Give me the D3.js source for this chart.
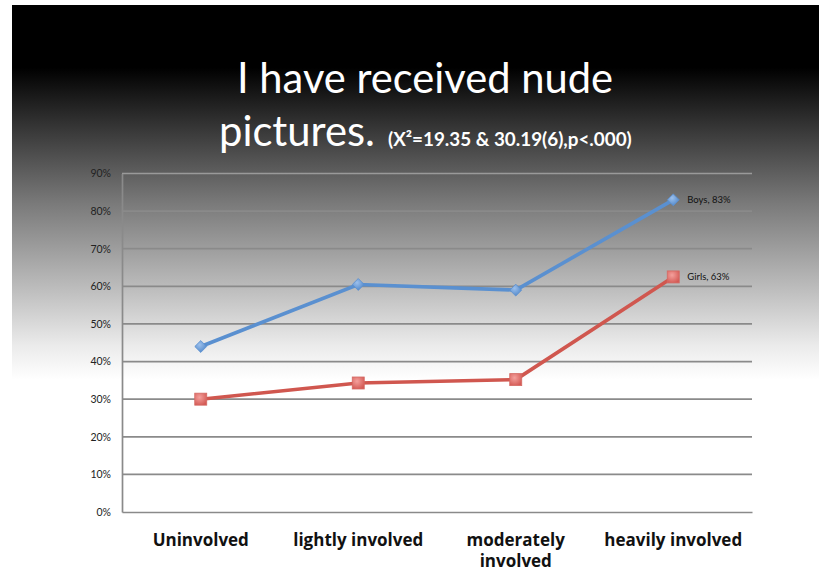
<!DOCTYPE html>
<html><head><meta charset="utf-8">
<script src="https://cdn.jsdelivr.net/npm/d3@7"></script>
<style>html,body{margin:0;padding:0;background:#fff;overflow:hidden}</style>
</head><body>
<svg id="c" width="819" height="573"></svg>
<script>
const categories = ["Uninvolved", "lightly involved", "moderately involved", "heavily involved"];
const boys = [0.44, 0.605, 0.59, 0.83];
const girls = [0.30, 0.343, 0.352, 0.625];
const seriesNames = ["Boys", "Girls"];
const labelTexts = ["Boys, 83%", "Girls, 63%"];
const yTicks = [0, 0.1, 0.2, 0.3, 0.4, 0.5, 0.6, 0.7, 0.8, 0.9];
const titleLine1 = "I have received nude";
const titleLine2 = "pictures.";
const subtitle = "(X²=19.35 & 30.19(6),p<.000)";

const FONT = "Lato, 'Open Sans', sans-serif";
const svg = d3.select("#c");
const defs = svg.append("defs");
const bg = defs.append("linearGradient").attr("id","bg")
  .attr("gradientUnits","userSpaceOnUse").attr("x1",0).attr("y1",5).attr("x2",0).attr("y2",573);
[[0,"#000"],[0.11,"#000"],[0.2,"#2e2e2e"],[0.35,"#7a7a7a"],[0.5,"#bdbdbd"],[0.6,"#ebebeb"],[0.66,"#fff"],[1,"#fff"]]
  .forEach(([o,c])=>bg.append("stop").attr("offset",o).attr("stop-color",c));
svg.append("rect").attr("x",12).attr("y",5).attr("width",807).attr("height",568).attr("fill","url(#bg)");

const gB = defs.append("radialGradient").attr("id","mb").attr("cx","40%").attr("cy","35%").attr("r","70%");
gB.append("stop").attr("offset",0).attr("stop-color","#9cc0ec");
gB.append("stop").attr("offset",1).attr("stop-color","#4f86c9");
const gG = defs.append("radialGradient").attr("id","mg").attr("cx","40%").attr("cy","35%").attr("r","70%");
gG.append("stop").attr("offset",0).attr("stop-color","#f4a09c");
gG.append("stop").attr("offset",1).attr("stop-color","#d45a55");

const x = d3.scaleBand().domain(categories).range([122, 752]);
const y = d3.scaleLinear().domain([0, 0.9]).range([512, 173.5]);

// gridlines
svg.append("g").selectAll("line").data(yTicks.filter(d=>d>0)).join("line")
  .attr("x1",122).attr("x2",752).attr("y1",d=>y(d)).attr("y2",d=>y(d))
  .attr("stroke",d=>d>=0.9?"#9a9a9a":"#8a8a8a").attr("stroke-width",1.7);

const yAxis = svg.append("g").attr("transform","translate(122,0)")
  .call(d3.axisLeft(y).tickValues(yTicks).tickFormat(d3.format(".0%")).tickSize(0).tickPadding(11));
yAxis.select(".domain").attr("stroke","#8a8a8a").attr("stroke-width",1.7);
yAxis.selectAll("text").attr("font-family",FONT).attr("font-size",10.5).attr("fill","#222");

const xAxis = svg.append("g").attr("transform","translate(0,512)")
  .call(d3.axisBottom(x).tickSize(0).tickFormat(""));
xAxis.select(".domain").attr("stroke","#8a8a8a").attr("stroke-width",1.7);

// category labels
const catG = svg.append("g");
categories.forEach(c=>{
  const lines = c === "moderately involved" ? ["moderately","involved"] : [c];
  lines.forEach((l,i)=>{
    catG.append("text").attr("x",x(c)+x.bandwidth()/2).attr("y",546+i*21)
      .attr("text-anchor","middle").attr("font-family","'Open Sans', sans-serif")
      .attr("font-weight","bold").attr("font-size",17).attr("fill","#111").text(l);
  });
});

const cx = c=>x(c)+x.bandwidth()/2;
const line = d3.line().x((d,i)=>cx(categories[i])).y(d=>y(d));
[[boys,"#5a90d0"],[girls,"#d0574f"]].forEach(([vals,col])=>{
  svg.append("path").attr("d",line(vals)).attr("fill","none").attr("stroke",col).attr("stroke-width",3.6);
});
// boys diamonds
svg.append("g").selectAll("path").data(boys).join("path")
  .attr("d",d3.symbol(d3.symbolDiamond2,90)).attr("transform",(d,i)=>`translate(${cx(categories[i])},${y(d)})`)
  .attr("fill","url(#mb)").attr("stroke","#5a8fcf").attr("stroke-width",0.8);
// girls squares
svg.append("g").selectAll("rect").data(girls).join("rect")
  .attr("x",(d,i)=>cx(categories[i])-6).attr("y",d=>y(d)-6).attr("width",12).attr("height",12)
  .attr("fill","url(#mg)").attr("stroke","#d46a64").attr("stroke-width",0.8);

// data labels
[[boys,labelTexts[0]],[girls,labelTexts[1]]].forEach(([vals,t])=>{
  svg.append("text").attr("x",cx(categories[3])+14).attr("y",y(vals[3])+3.5)
    .attr("font-family",FONT).attr("font-size",9.5).attr("fill","#111").text(t);
});

// titles
function fit(sel, w){ const l = sel.node().getComputedTextLength(); const fs = +sel.attr("font-size"); sel.attr("font-size", fs*w/l); }
const t1 = svg.append("text").attr("x",425).attr("y",93).attr("text-anchor","middle")
  .attr("font-family",FONT).attr("font-size",38).attr("fill","#fff").text(titleLine1);
fit(t1,376);
const t2 = svg.append("text").attr("x",219).attr("y",146)
  .attr("font-family",FONT).attr("font-size",38).attr("fill","#fff").text(titleLine2);
fit(t2,156);
const t3 = svg.append("text").attr("x",388).attr("y",146)
  .attr("font-family",FONT).attr("font-weight","bold").attr("font-size",16).attr("fill","#fff").text(subtitle);
fit(t3,244);
</script>
</body></html>
